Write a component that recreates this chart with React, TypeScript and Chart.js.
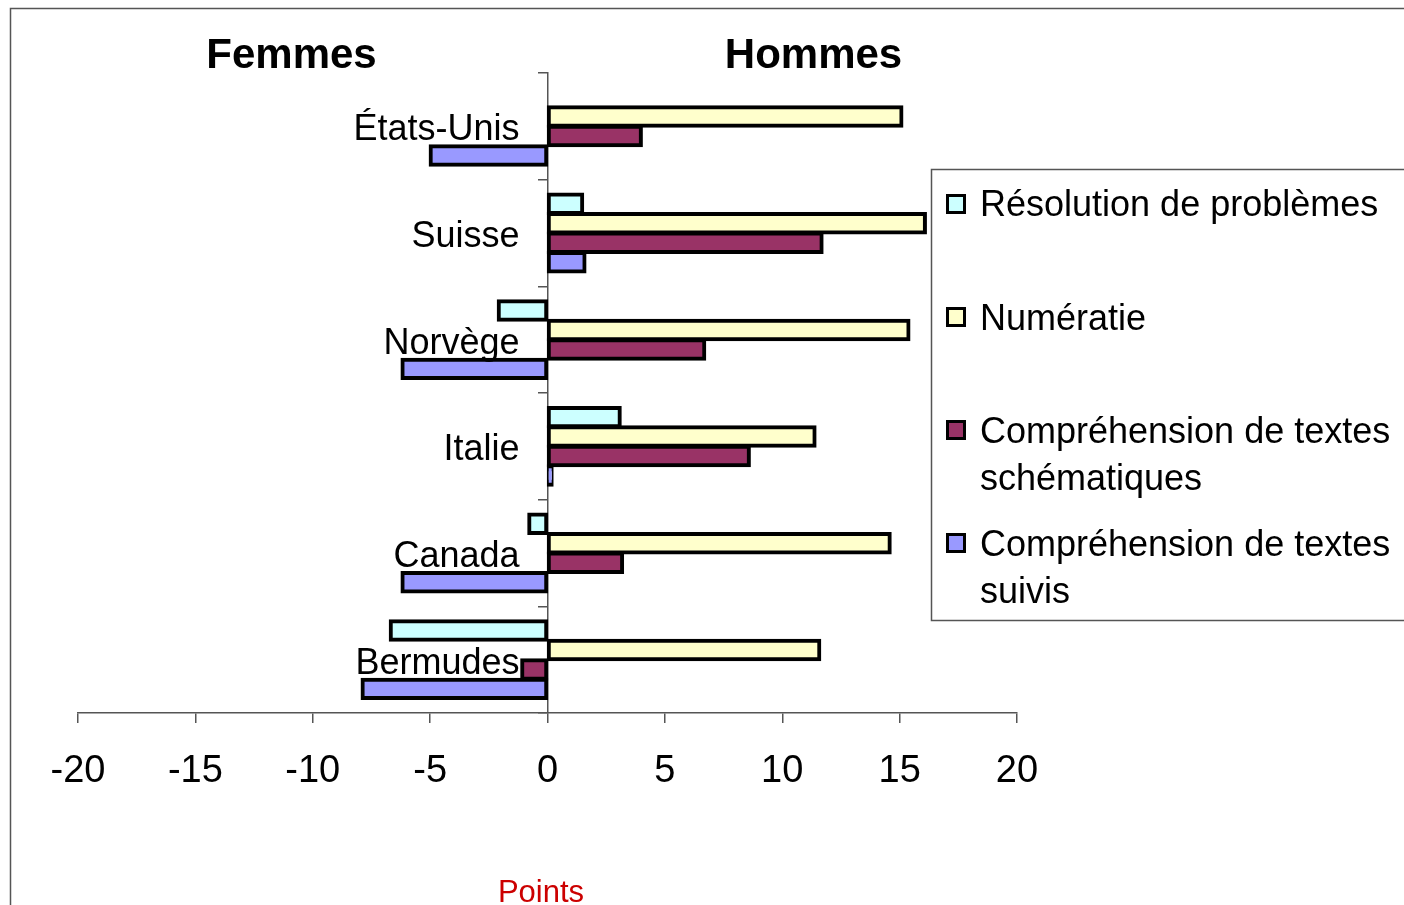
import React, { useEffect, useRef } from "react";
import { Chart, registerables } from "chart.js";

Chart.register(...registerables);

const countries = ["États-Unis", "Suisse", "Norvège", "Italie", "Canada", "Bermudes"];
const resolution = [null, 1.5, -2.1, 3.1, -0.8, -6.7];
const numeratie = [15.1, 16.1, 15.4, 11.4, 14.6, 11.6];
const schematiques = [4.0, 11.7, 6.7, 8.6, 3.2, -1.1];
const suivis = [-5.0, 1.6, -6.2, 0.2, -6.2, -7.9];
const xMin = -20;
const xMax = 20;
const xStep = 5;
const seriesLabels = [
  "Résolution de problèmes",
  "Numératie",
  "Compréhension de textes schématiques",
  "Compréhension de textes suivis",
];
const legendLines = [
  ["Résolution de problèmes"],
  ["Numératie"],
  ["Compréhension de textes", "schématiques"],
  ["Compréhension de textes", "suivis"],
];
const seriesColors = ["#CCFFFF", "#FFFFCC", "#993366", "#9999FF"];
const leftTitle = "Femmes";
const rightTitle = "Hommes";
const axisTitle = "Points";

const FONT = "'Liberation Sans', Arial, sans-serif";

const decorPlugin = {
  id: "decor",
  beforeDraw(chart: any) {
    const ctx = chart.ctx;
    ctx.save();
    ctx.fillStyle = "#ffffff";
    ctx.fillRect(0, 0, chart.width, chart.height);
    ctx.restore();
  },
  afterDatasetsDraw(chart: any) {
    // category labels drawn over the bars, right-aligned left of the zero line
    const ctx = chart.ctx;
    const xs = chart.scales.x;
    const ys = chart.scales.y;
    const x0 = xs.getPixelForValue(0);
    ctx.save();
    ctx.fillStyle = "#000";
    ctx.font = `36px ${FONT}`;
    ctx.textAlign = "right";
    ctx.textBaseline = "middle";
    chart.data.labels.forEach((lab: string, i: number) => {
      ctx.fillText(lab, x0 - 28, ys.getPixelForTick(i) + 4);
    });
    ctx.restore();
  },
  afterDraw(chart: any) {
    const ctx = chart.ctx;
    ctx.save();
    // outer frame (top + left)
    ctx.strokeStyle = "#555555";
    ctx.lineWidth = 1.5;
    ctx.beginPath();
    ctx.moveTo(10.5, chart.height);
    ctx.lineTo(10.5, 8.5);
    ctx.lineTo(chart.width, 8.5);
    ctx.stroke();

    // titles
    ctx.fillStyle = "#000";
    ctx.textAlign = "center";
    ctx.textBaseline = "alphabetic";
    ctx.font = `bold 42px ${FONT}`;
    ctx.fillText(leftTitle, 291.5, 68);
    ctx.fillText(rightTitle, 813.5, 68);

    ctx.fillStyle = "#CC0000";
    ctx.font = `31px ${FONT}`;
    ctx.fillText(axisTitle, 541, 902);

    // legend
    ctx.strokeStyle = "#555555";
    ctx.lineWidth = 1.5;
    ctx.strokeRect(931.5, 169.5, 520, 451);
    const rows = [
      { marker: 204, baselines: [216] },
      { marker: 317, baselines: [330] },
      { marker: 430, baselines: [443, 490] },
      { marker: 543, baselines: [556, 603] },
    ];
    ctx.font = `36px ${FONT}`;
    ctx.textAlign = "left";
    chart.data.datasets.forEach((ds: any, i: number) => {
      const r = rows[i];
      ctx.fillStyle = ds.backgroundColor;
      ctx.fillRect(946, r.marker - 10, 20, 20);
      ctx.strokeStyle = "#000";
      ctx.lineWidth = 3;
      ctx.strokeRect(947.5, r.marker - 8.5, 17, 17);
      ctx.fillStyle = "#000";
      legendLines[i].forEach((line, j) => {
        ctx.fillText(line, 980, r.baselines[j]);
      });
    });
    ctx.restore();
  },
};

export default function App() {
  const ref = useRef<HTMLCanvasElement | null>(null);
  useEffect(() => {
    if (!ref.current) return;
    const series = [resolution, numeratie, schematiques, suivis];
    const chart = new Chart(ref.current, {
      type: "bar",
      data: {
        labels: countries,
        datasets: series.map((d, i) => ({
          label: seriesLabels[i],
          data: d,
          backgroundColor: seriesColors[i],
          borderColor: "#000000",
          borderWidth: 4,
          borderSkipped: false,
          inflateAmount: 1.5,
          categoryPercentage: 0.73,
          barPercentage: 1.0,
        })),
      },
      options: {
        indexAxis: "y",
        responsive: false,
        animation: false,
        devicePixelRatio: 1,
        layout: { padding: { left: 78, right: 387, top: 73, bottom: 0 } },
        plugins: {
          legend: { display: false },
          tooltip: { enabled: false },
          title: { display: false },
        },
        scales: {
          x: {
            type: "linear",
            min: xMin,
            max: xMax,
            position: "bottom",
            ticks: {
              stepSize: xStep,
              color: "#000",
              font: { family: FONT, size: 38 },
              padding: 26,
              maxRotation: 0,
            },
            grid: {
              drawOnChartArea: false,
              drawTicks: true,
              tickLength: 10,
              color: "#555555",
              lineWidth: 1.5,
            },
            border: { color: "#555555", width: 1.5 },
            afterFit: (scale: any) => {
              scale.height = 192;
            },
          },
          y: {
            type: "category",
            position: { x: 0 },
            ticks: {
              display: false,
            },
            grid: {
              drawOnChartArea: false,
              drawTicks: true,
              tickLength: 9,
              color: "#555555",
              lineWidth: 1.5,
            },
            border: { color: "#555555", width: 1.5 },
          },
        },
      } as any,
      plugins: [decorPlugin],
    });
    return () => chart.destroy();
  }, []);
  return (
    <div style={{ position: "absolute", left: 0, top: 0, width: 1404, height: 905 }}>
      <canvas ref={ref} width={1404} height={905} style={{ display: "block" }} />
    </div>
  );
}
